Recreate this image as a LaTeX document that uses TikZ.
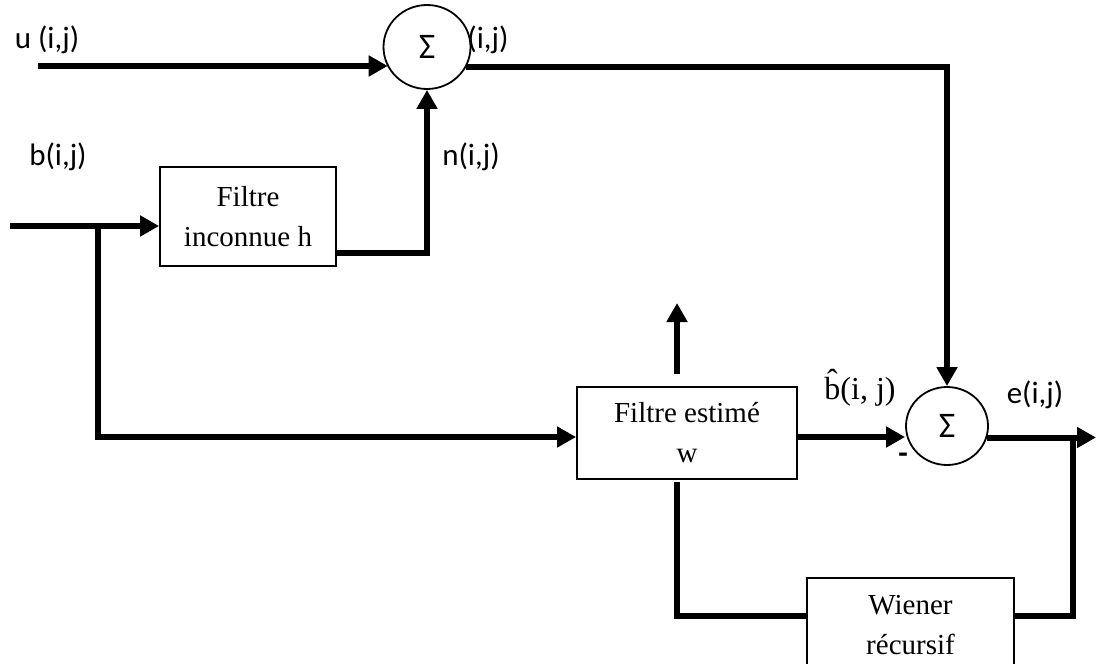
\documentclass[tikz,border=0pt]{standalone}
\usepackage{fontspec}
\setmainfont{Liberation Serif}
\newfontfamily\labfont{Carlito}
\usetikzlibrary{arrows.meta,shapes.geometric,calc}
\newcommand{\bhatsym}{{\ooalign{b\cr\hidewidth\raisebox{0.56ex}{ˆ}\hidewidth\cr}}}
\begin{document}
\begin{tikzpicture}[x=0.5pt,y=-0.5pt,
  wire/.style={line width=3pt},
  arr/.style={wire,-{Triangle[length=9.5pt,width=10pt]}},
  blk/.style={draw,line width=0.9pt,rectangle,inner sep=0pt,align=center,font=\fontsize{14.5}{20}\selectfont},
  sumnode/.style={draw,line width=0.9pt,ellipse,inner sep=0pt,font=\labfont\fontsize{18}{20}\selectfont},
  lbl/.style={font=\labfont\fontsize{15.5}{18}\selectfont,inner sep=0pt}]
\useasboundingbox (0,0) rectangle (1096,663);
\clip (0,0) rectangle (1096,663);

% blocks
\node[sumnode,minimum width=43.5pt,minimum height=42pt] (s1) at (427,47) {\raisebox{-0.15ex}{Σ}};
\node[sumnode,minimum width=41pt,minimum height=39pt] (s2) at (947,426) {\raisebox{-0.3ex}{Σ}};
\node[blk,minimum width=88pt,minimum height=49.5pt] (h) at (248,216.5) {Filtre\\inconnue h};
\node[blk,minimum width=110pt,minimum height=46pt] (w) at (687,433) {\raisebox{-2pt}{Filtre estimé}\\\raisebox{-2pt}{w}};
\node[blk,minimum width=103.5pt,minimum height=47pt] (wr) at (910.5,625) {Wiener\\récursif};

% free ends and helper points
\coordinate (uin) at (38,66);
\coordinate (bin) at (10,226);
\coordinate (br) at (98,226);
\coordinate (tap) at (1073,437);
\coordinate (eout) at (1096,437);
\coordinate (upend) at (677,303);
\coordinate (wo) at ($(w.east)+(0,4)$);
\coordinate (wi) at ($(w.west)+(0,4)$);
\coordinate (ho) at ($(h.south east)+(0,-14)$);
\coordinate (wrr) at ($(wr.north east)+(0,39)$);
\coordinate (wrl) at ($(wr.north west)+(0,39)$);
\coordinate (wd) at ($(w.south)+(-10,2)$);
\coordinate (wu) at ($(w.north)+(-10,-12)$);

% connectors
\draw[arr] (uin) -- (uin -| s1.207);
\draw[arr] (s1.-27) -| (s2.north);
\draw[arr] (bin) -- (bin -| h.west);
\draw[arr] (br) |- (wi);
\draw[arr] (ho) -| (s1.south);
\draw[arr] (wo) -- (wo -| s2.west);
\draw[arr] (s2.-16) -- (s2.-16 -| eout);
\draw[wire] (tap) |- (wrr);
\draw[wire] (wrl) -| (wd);
\draw[arr] (wu) -- (upend);

% labels
\node[lbl] (lu) at (47,40) {u (i,j)};
\node[lbl] (lb) at (58,157) {b(i,j)};
\node[lbl] (ly) at (488,40) {(i,j)};
\node[lbl] (ln) at (471,157) {n(i,j)};
\node[lbl,font=\fontsize{16}{18}\selectfont] (lbh) at (860,392) {\bhatsym(i, j)};
\node[lbl] (le) at (1035,395) {e(i,j)};
\node[lbl,font=\labfont\bfseries\fontsize{15.5}{18}\selectfont] (lm) at (903,458) {-};
\end{tikzpicture}
\end{document}
